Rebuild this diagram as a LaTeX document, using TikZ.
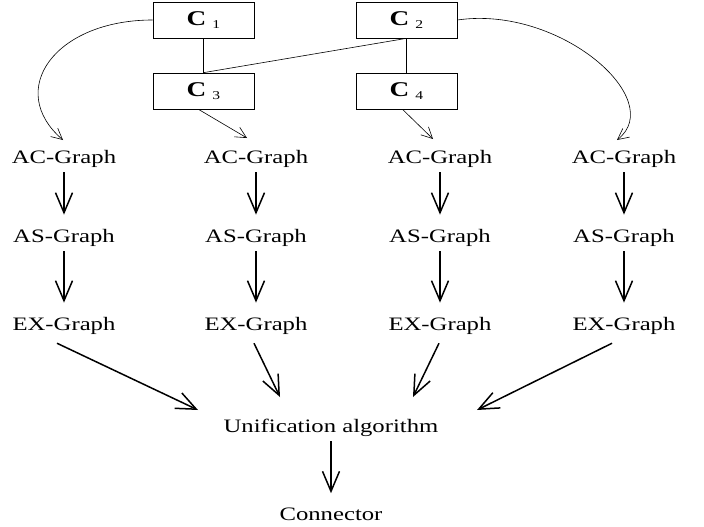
\documentclass[tikz,border=0pt]{standalone}
\usepackage{fontspec}
\setmainfont{Liberation Serif}[FakeStretch=1.3]
\usetikzlibrary{arrows.meta}
\begin{document}
\begin{tikzpicture}[x=1pt,y=-1pt,
  lbl/.style={font=\fontsize{19}{22}\selectfont, inner sep=0pt, anchor=base},
  cbox/.style={draw, line width=0.7pt, minimum width=101pt, minimum height=36pt,
               inner sep=0pt, font=\fontsize{21}{24}\selectfont},
  thinarrow/.style={line width=0.6pt, -{Straight Barb[length=11pt,width=11pt]}},
  big/.style={line width=1.5pt, -{Straight Barb[length=20pt,width=17pt]}},
  down/.style={big, shorten <=5pt, shorten >=14pt},
  link/.style={line width=0.6pt}]
\useasboundingbox (0,0) rectangle (704,527);

\newcommand{\cname}[1]{\textbf{C}\hspace{6pt}\raisebox{-3pt}{\fontsize{12}{12}\selectfont #1}}

% component boxes
\node[cbox] (c1) at (203.5,20) {\cname{1}};
\node[cbox] (c2) at (406.5,20) {\cname{2}};
\node[cbox] (c3) at (203.5,91) {\cname{3}};
\node[cbox] (c4) at (406.5,91) {\cname{4}};

\draw[link] (c1.south) -- (c3.north);
\draw[link] (c2.south) -- (c4.north);
\draw[link] (c2.south) -- (c3.north);

% graph columns
\foreach \i/\x in {1/64,2/256,3/440,4/624}{
  \node[lbl] (ac\i) at (\x,163) {AC-Graph};
  \node[lbl] (as\i) at (\x,242) {AS-Graph};
  \node[lbl] (ex\i) at (\x,330) {EX-Graph};
  \draw[down] (ac\i.south) -- (as\i.north);
  \draw[down] (as\i.south) -- (ex\i.north);
}

\node[lbl] (unif) at (331,432) {Unification algorithm};
\node[lbl] (conn) at (331,520) {Connector};

% arrow tips above the AC-Graph labels
\coordinate (k1) at (63,140);
\coordinate (k2) at (247,138);
\coordinate (k3) at (433,139);
\coordinate (k4) at (617,140);

\draw[thinarrow] (c1.west) .. controls (55,20) and (5,90) .. (k1);
\draw[thinarrow] (c2.east) .. controls (560,5) and (668,100) .. (k4);
\draw[thinarrow] ([xshift=-5pt]c3.south) -- (k2);
\draw[thinarrow] ([xshift=-4pt]c4.south) -- (k3);

% arrow tips around the unification label
\coordinate (u1) at (198,410);
\coordinate (u2) at (280,397);
\coordinate (u3) at (413,397);
\coordinate (u4) at (477,410);

\draw[big] ([shift={(-7pt,-9pt)}]ex1.south) -- (u1);
\draw[big] ([shift={(-2pt,-9pt)}]ex2.south) -- (u2);
\draw[big] ([shift={(-1pt,-9pt)}]ex3.south) -- (u3);
\draw[big] ([shift={(-12pt,-9pt)}]ex4.south) -- (u4);

\draw[down] (unif.south) -- (conn.north);
\end{tikzpicture}
\end{document}
